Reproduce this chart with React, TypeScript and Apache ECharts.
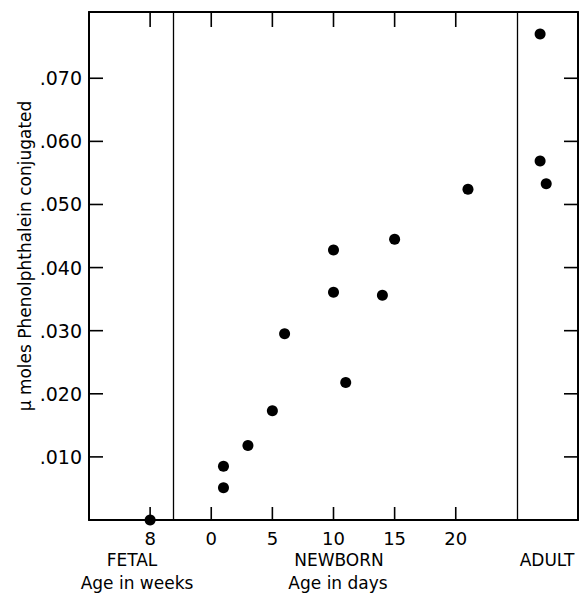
import React, { useEffect, useRef } from "react";
import * as echarts from "echarts";

// Data (x positions on a shared axis: newborn days; fetal/adult placed in their panels)
const fetalPos = [-5]; // week 8
const fetalValues = [0];
const newbornDays = [1, 1, 3, 5, 6, 10, 10, 11, 14, 15, 21];
const newbornValues = [0.0085, 0.0051, 0.0118, 0.0173, 0.0295, 0.0428, 0.0361, 0.0218, 0.0356, 0.0445, 0.0524];
const adultPos = [26.9, 26.9, 27.4];
const adultValues = [0.077, 0.0569, 0.0533];
const yTickValues = [0.01, 0.02, 0.03, 0.04, 0.05, 0.06, 0.07];
const xTickValues = [-5, 0, 5, 10, 15, 20];
const yTickLabels: Record<string, string> = {
  "0.01": ".010", "0.02": ".020", "0.03": ".030", "0.04": ".040",
  "0.05": ".050", "0.06": ".060", "0.07": ".070",
};
const xTickLabels: Record<string, string> = { "-5": "8", "0": "0", "5": "5", "10": "10", "15": "15", "20": "20" };
const separators = [-3.1, 25];

const X_MIN = -10, X_MAX = 30, Y_MIN = 0, Y_MAX = 0.0805;
const FONT = "DejaVu Sans";
const INK = "#000";

export default function App() {
  const ref = useRef<HTMLDivElement>(null);
  useEffect(() => {
    document.body.style.margin = "0";
    const chart = echarts.init(ref.current!, null, { renderer: "svg" });
    const pts = [
      ...fetalPos.map((x, i) => [x, fetalValues[i]]),
      ...newbornDays.map((x, i) => [x, newbornValues[i]]),
      ...adultPos.map((x, i) => [x, adultValues[i]]),
    ];
    const mkLine = () => ({ show: true, onZero: false, lineStyle: { color: INK, width: 2 } });
    const yKey = (v: number) => String(Math.round(v * 1000) / 1000);
    chart.setOption({
      animation: false,
      backgroundColor: "#fff",
      grid: { left: 89, right: 4, top: 12, bottom: 76 },
      xAxis: [
        {
          type: "value", min: X_MIN, max: X_MAX, interval: 5, position: "bottom",
          axisLine: mkLine(),
          axisTick: { show: false },
          axisLabel: {
            show: true, margin: 9,
            formatter: (v: number) => xTickLabels[String(v)] ?? "",
            color: INK, fontFamily: FONT, fontSize: 18,
          },
          splitLine: { show: false },
        },
        {
          type: "value", min: X_MIN, max: X_MAX, interval: 5, position: "top",
          axisLine: mkLine(),
          axisTick: { show: false },
          axisLabel: { show: false },
          splitLine: { show: false },
        },
      ],
      yAxis: [
        {
          type: "value", min: Y_MIN, max: Y_MAX, interval: 0.01, position: "left",
          axisLine: mkLine(),
          axisTick: { show: false },
          axisLabel: {
            show: true, margin: 7,
            formatter: (v: number) => yTickLabels[yKey(v)] ?? "",
            color: INK, fontFamily: FONT, fontSize: 19,
          },
          splitLine: { show: false },
        },
        {
          type: "value", min: Y_MIN, max: Y_MAX, interval: 0.01, position: "right",
          axisLine: mkLine(),
          axisTick: { show: false },
          axisLabel: { show: false },
          splitLine: { show: false },
        },
      ],
      series: [
        {
          type: "scatter",
          xAxisIndex: 0, yAxisIndex: 0,
          data: pts,
          symbol: "circle",
          symbolSize: 11,
          clip: false,
          itemStyle: { color: INK, opacity: 1 },
          markLine: {
            silent: true,
            symbol: ["none", "none"],
            label: { show: false },
            lineStyle: { color: INK, width: 1.3, type: "solid" },
            data: separators.map((x) => ({ xAxis: x })),
          },
        },
      ],
    });

    // inward tick marks on all four sides, placed through the chart's own scales
    const toPx = (x: number, y: number) =>
      chart.convertToPixel({ xAxisIndex: 0, yAxisIndex: 0 }, [x, y]) as number[];
    const tick = (x: number, y: number, dx: number, dy: number) => {
      const p = toPx(x, y);
      return {
        type: "line", z: 100, silent: true,
        shape: { x1: p[0], y1: p[1], x2: p[0] + dx, y2: p[1] + dy },
        style: { stroke: INK, lineWidth: 1.6 },
      };
    };
    const ticks = [
      ...yTickValues.map((v) => tick(X_MIN, v, 14, 0)),
      ...yTickValues.map((v) => tick(X_MAX, v, -14, 0)),
      ...xTickValues.map((v) => tick(v, Y_MIN, 0, -13)),
      ...xTickValues.map((v) => tick(v, Y_MAX, 0, 15)),
    ];
    const txt = (text: string, x: number, y: number) => ({
      type: "text", x, y, z: 100,
      style: { text, fontFamily: FONT, fontSize: 17, fill: INK, align: "center", verticalAlign: "middle" },
    });
    chart.setOption({
      graphic: [
        {
          type: "text", x: 25, y: 256, rotation: Math.PI / 2, z: 100,
          style: { text: "μ moles Phenolphthalein conjugated", fontFamily: FONT, fontSize: 17, fill: INK, align: "center", verticalAlign: "middle" },
        },
        txt("FETAL", 132, 560),
        txt("Age in weeks", 137, 583),
        txt("NEWBORN", 339, 560),
        txt("Age in days", 338, 583),
        txt("ADULT", 547, 560),
        ...ticks,
      ],
    });
    return () => chart.dispose();
  }, []);
  return <div ref={ref} style={{ width: 582, height: 596 }} />;
}
